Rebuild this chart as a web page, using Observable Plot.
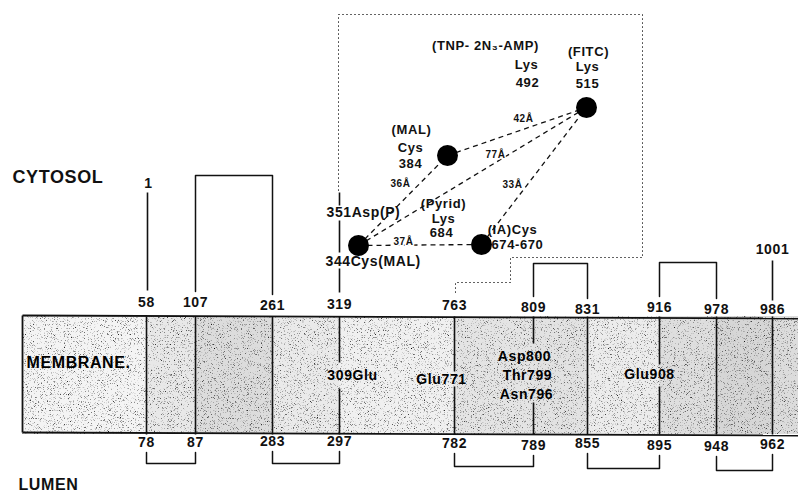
<!DOCTYPE html>
<html>
<head>
<meta charset="utf-8">
<script src="https://cdn.jsdelivr.net/npm/d3@7"></script>
<script src="https://cdn.jsdelivr.net/npm/@observablehq/plot@0.6"></script>
<style>
  body { margin: 0; background: #fff; }
  #chart text { letter-spacing: 0.6px; }
</style>
</head>
<body>
<div id="chart"></div>
<script>
// ---------- data (diagram units) ----------
const memLeft = 22, memRight = 798, memTop = 316, memBottom = 434;

const helixPos   = [146, 195, 272, 339, 454, 533, 587, 659, 716, 772];
const cytoNums   = ["58", "107", "261", "319", "763", "809", "831", "916", "978", "986"];
const cytoNumY   = [302, 302, 305, 304, 305, 307, 309, 307, 309, 309];
const lumenNums  = ["78", "87", "283", "297", "782", "789", "855", "895", "948", "962"];
const lumenNumY  = [442, 442, 441, 441, 443, 445, 443, 445, 446, 444];
const segShade   = ["#f4f4f4", "#e8e8e8", "#dcdcdc", "#eaeaea", "#f0f0f0", "#e4e4e4",
                    "#e2e2e2", "#ececec", "#dedede", "#d6d6d6", "#dcdcdc"];
// gaps in helix lines where labels sit (null = no gap)
const helixGapTop    = [null, null, null, 362, 371, 343, null, 364, null, null];
const helixGapBottom = [null, null, null, 388, 386, 402, null, 386, null, null];

// cytosolic loops (helix index pairs + loop top)
const cytoLoopFrom = [1, 5, 7];
const cytoLoopTo   = [2, 6, 8];
const cytoLoopTop  = [175, 263, 262];
// lumenal loops (helix index pairs + loop bottom)
const lumenLoopFrom   = [0, 2, 4, 6, 8];
const lumenLoopTo     = [1, 3, 5, 7, 9];
const lumenLoopBottom = [463, 463, 466, 468, 470];
// single tails on the cytosolic side
const tailHelix = [0, 9, 3, 3, 3];
const tailY1    = [192, 260, 192, 220, 268];
const tailY2    = [290, 300, 205, 252, 292];

// dotted outline of the cytoplasmic domain
const borderX = [338, 338, 642, 642, 510, 510, 455, 455];
const borderY = [190, 14, 14, 257, 257, 282, 282, 294];

// labelled residues (filled circles)
const siteName = ["Lys515", "Cys384", "Cys344", "Cys674"];
const siteX    = [586, 447, 358, 481];
const siteY    = [107, 155, 245, 244];

// measured distances between sites
const distFrom   = [2, 2, 2, 1, 3];
const distTo     = [1, 0, 3, 0, 0];
const distText   = ["36Å", "77Å", "37Å", "42Å", "33Å"];
const distLabelX = [400, 495, 403, 523, 512];
const distLabelY = [183, 154, 241, 118, 184];

// text annotations
const labelText = ["CYTOSOL", "LUMEN", "1", "1001",
  "(TNP- 2N₃-AMP)", "Lys", "492", "(FITC)", "Lys", "515",
  "(MAL)", "Cys", "384", "351Asp(P)", "(Pyrid)", "Lys", "684",
  "(IA)Cys", "674-670", "344Cys(MAL)"];
const labelX = [12, 18, 148, 772,
  485, 526, 527, 588, 587, 587,
  411, 410, 410, 326, 443, 443, 441,
  512, 491, 325];
const labelY = [177, 484, 183, 249,
  45, 64, 82, 51, 66, 83,
  129, 147, 163, 212, 203, 218, 232,
  229, 244, 261];
const labelAnchor = ["start", "start", "middle", "middle",
  "middle", "middle", "middle", "middle", "middle", "middle",
  "middle", "middle", "middle", "start", "middle", "middle", "middle",
  "middle", "start", "start"];
const labelSize = [18, 16, 14, 14,
  13, 13, 13, 13, 13, 13,
  13, 13, 13, 14, 13, 13, 13,
  13, 13, 14];

// labels inside the membrane
const memText = ["MEMBRANE.", "309Glu", "Glu771", "Asp800", "Thr799", "Asn796", "Glu908"];
const memTextX = [26, 352, 441, 524, 527, 526, 649];
const memTextY = [362, 375, 379, 356, 375, 394, 374];
const memTextAnchor = ["start", "middle", "middle", "middle", "middle", "middle", "middle"];
const memTextSize = [16, 14, 14, 14, 14, 14, 14];

// ---------- derived tables ----------
const segIdx = d3.range(segShade.length);
const edges = [memLeft, ...helixPos, memRight];

const helixSegs = [];
helixPos.forEach((x, i) => {
  if (helixGapTop[i] == null) helixSegs.push({x, y1: memTop, y2: memBottom});
  else {
    helixSegs.push({x, y1: memTop, y2: helixGapTop[i]});
    helixSegs.push({x, y1: helixGapBottom[i], y2: memBottom});
  }
});
tailHelix.forEach((h, i) => helixSegs.push({x: helixPos[h] + (h === 0 ? 1 : 0), y1: tailY1[i], y2: tailY2[i]}));

const loopPts = [];
cytoLoopFrom.forEach((a, i) => {
  const b = cytoLoopTo[i], id = "c" + i;
  loopPts.push({id, x: helixPos[a], y: cytoNumY[a] - 11});
  loopPts.push({id, x: helixPos[a], y: cytoLoopTop[i]});
  loopPts.push({id, x: helixPos[b], y: cytoLoopTop[i]});
  loopPts.push({id, x: helixPos[b], y: cytoNumY[b] - 11});
});
lumenLoopFrom.forEach((a, i) => {
  const b = lumenLoopTo[i], id = "l" + i;
  loopPts.push({id, x: helixPos[a], y: lumenNumY[a] + 10});
  loopPts.push({id, x: helixPos[a], y: lumenLoopBottom[i]});
  loopPts.push({id, x: helixPos[b], y: lumenLoopBottom[i]});
  loopPts.push({id, x: helixPos[b], y: lumenNumY[b] + 10});
});

const border = borderX.map((x, i) => ({x, y: borderY[i]}));
const outline = [
  {x1: memLeft, y1: memTop - 1, x2: memRight, y2: memTop + 2},
  {x1: memLeft, y1: memBottom - 2, x2: memRight, y2: memBottom + 1},
  {x1: memLeft, y1: memTop - 1, x2: memLeft, y2: memBottom - 2}
];

const font = "'Liberation Sans', Arial, Helvetica, sans-serif";
const isStart = a => (d, i) => a[i] === "start";
const isMid = a => (d, i) => a[i] !== "start";

const chart = Plot.plot({
  width: 798, height: 493, margin: 0,
  x: {domain: [0, 798], range: [0, 798], axis: null},
  y: {domain: [0, 493], range: [0, 493], axis: null},
  color: {type: "identity"},
  style: {fontFamily: font, background: "#fff", overflow: "visible"},
  marks: [
    // membrane slab
    Plot.rect(segIdx, {x1: i => edges[i], x2: i => edges[i + 1], y1: memTop, y2: memBottom, fill: i => segShade[i]}),
    Plot.link(outline, {x1: "x1", y1: "y1", x2: "x2", y2: "y2", stroke: "#111", strokeWidth: 1.8}),
    Plot.link(helixSegs, {x1: "x", x2: "x", y1: "y1", y2: "y2", stroke: "#111", strokeWidth: 1.6}),
    Plot.line(loopPts, {x: "x", y: "y", z: "id", stroke: "#111", strokeWidth: 1.5, curve: "linear"}),
    // dotted domain outline
    Plot.line(border, {x: "x", y: "y", stroke: "#555", strokeWidth: 1.1, strokeDasharray: "1 3", strokeLinecap: "round"}),
    // distances
    Plot.link(distFrom, {x1: (d, i) => siteX[d], y1: (d, i) => siteY[d], x2: (d, i) => siteX[distTo[i]], y2: (d, i) => siteY[distTo[i]],
      stroke: "#111", strokeWidth: 1.3, strokeDasharray: "5 4"}),
    Plot.text(distText, {x: (d, i) => distLabelX[i], y: (d, i) => distLabelY[i], text: d => d,
      fontSize: 10, fontWeight: "bold", fill: "#111", stroke: "#fff", strokeWidth: 3}),
    Plot.dot(siteName, {x: (d, i) => siteX[i], y: (d, i) => siteY[i], r: 10.5, fill: "#000"}),
    // numbers
    Plot.text(cytoNums, {x: (d, i) => helixPos[i], y: (d, i) => cytoNumY[i], text: d => d, fontSize: 14, fontWeight: "bold", fill: "#111"}),
    Plot.text(lumenNums, {x: (d, i) => helixPos[i], y: (d, i) => lumenNumY[i], text: d => d, fontSize: 14, fontWeight: "bold", fill: "#111"}),
    // annotations
    Plot.text(labelText, {filter: isMid(labelAnchor), x: (d, i) => labelX[i], y: (d, i) => labelY[i], text: d => d,
      textAnchor: "middle", fontSize: (d, i) => labelSize[i], fontWeight: "bold", fill: "#111"}),
    Plot.text(labelText, {filter: isStart(labelAnchor), x: (d, i) => labelX[i], y: (d, i) => labelY[i], text: d => d,
      textAnchor: "start", fontSize: (d, i) => labelSize[i], fontWeight: "bold", fill: "#111"}),
    Plot.text(memText, {filter: isMid(memTextAnchor), x: (d, i) => memTextX[i], y: (d, i) => memTextY[i], text: d => d,
      textAnchor: "middle", fontSize: (d, i) => memTextSize[i], fontWeight: "bold", fill: "#000"}),
    Plot.text(memText, {filter: isStart(memTextAnchor), x: (d, i) => memTextX[i], y: (d, i) => memTextY[i], text: d => d,
      textAnchor: "start", fontSize: (d, i) => memTextSize[i], fontWeight: "bold", fill: "#000"})
  ]
});

// grain texture for the membrane slab
const svg = d3.select(chart.tagName.toLowerCase() === "svg" ? chart : chart.querySelector("svg"));
svg.insert("defs", ":first-child").html(`
  <filter id="grain" x="0" y="0" width="1" height="1" color-interpolation-filters="sRGB">
    <feTurbulence type="fractalNoise" baseFrequency="1.3" numOctaves="2" seed="7" result="n"/>
    <feColorMatrix in="n" type="matrix" result="g"
      values="3 0 0 0 -0.25  3 0 0 0 -0.25  3 0 0 0 -0.25  0 0 0 0 1"/>
    <feBlend in="SourceGraphic" in2="g" mode="multiply"/>
  </filter>`);
svg.select('g[aria-label="rect"]').attr("filter", "url(#grain)");

document.getElementById("chart").appendChild(chart);
</script>
</body>
</html>
